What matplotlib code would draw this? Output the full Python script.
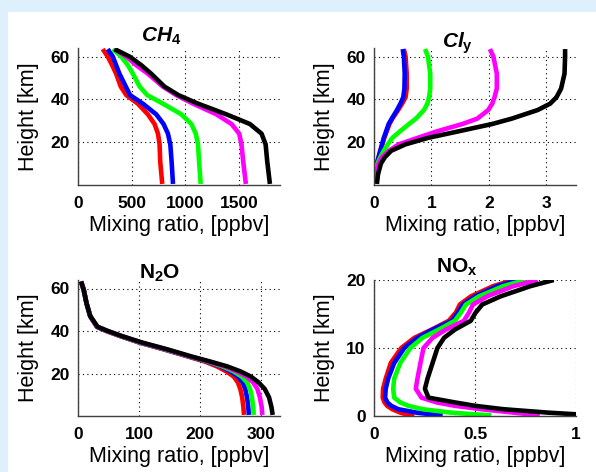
import numpy as np
import matplotlib
matplotlib.use('Agg')
import matplotlib.pyplot as plt
from matplotlib.patches import Rectangle

plt.rcParams['font.family'] = ['Liberation Sans', 'DejaVu Sans']
plt.rcParams['mathtext.fontset'] = 'custom'
plt.rcParams['mathtext.rm'] = 'Liberation Sans:weight=bold'
plt.rcParams['mathtext.it'] = 'Liberation Sans:style=italic:weight=bold'

# series order: red, blue, green, magenta, black
colors = ['#ff0000', '#0000ff', '#00ff00', '#ff00ff', '#000000']

# CH4 profiles [ppbv]
h_ch4 = [0.5, 11, 19, 24, 28.5, 33, 38, 42, 46, 52, 56, 60, 63.5]
ch4_red = [785, 766, 760, 745, 713, 651, 557, 450, 398, 355, 318, 277, 230]
ch4_blue = [885, 872, 860, 838, 797, 729, 604, 485, 445, 386, 355, 324, 277]
ch4_green = [1143, 1128, 1118, 1097, 1056, 963, 791, 645, 574, 511, 464, 402, 324]
ch4_magenta = [1564, 1539, 1523, 1502, 1430, 1290, 1072, 915, 790, 651, 542, 449, 340]
ch4_black = [1788, 1763, 1748, 1710, 1601, 1383, 1118, 935, 805, 682, 589, 480, 340]

# Cly profiles [ppbv]
h_cly = [0.5, 5, 10, 13, 16, 19, 22, 25, 28.5, 31, 35, 38, 41, 45, 52, 60, 63.5]
cly_red = [0.02, 0.03, 0.05, 0.08, 0.11, 0.145, 0.18, 0.22, 0.27, 0.32, 0.42, 0.49, 0.55, 0.57, 0.57, 0.55, 0.52]
cly_blue = [0.02, 0.03, 0.05, 0.08, 0.11, 0.14, 0.17, 0.21, 0.255, 0.31, 0.40, 0.46, 0.51, 0.53, 0.535, 0.52, 0.50]
cly_green = [0.02, 0.03, 0.06, 0.11, 0.17, 0.24, 0.32, 0.45, 0.61, 0.73, 0.87, 0.93, 0.96, 0.98, 0.98, 0.94, 0.89]
cly_magenta = [0.02, 0.03, 0.08, 0.14, 0.26, 0.43, 0.76, 1.09, 1.54, 1.80, 1.99, 2.06, 2.10, 2.14, 2.14, 2.08, 2.02]
cly_black = [0.05, 0.07, 0.12, 0.19, 0.30, 0.55, 0.94, 1.46, 2.06, 2.40, 2.85, 3.07, 3.18, 3.26, 3.32, 3.33, 3.33]

# N2O profiles [ppbv]
h_n2o = [0.5, 4.2, 8.8, 12.7, 15.8, 18.6, 21, 23.3, 25.6, 28, 31.4, 34.5, 37.6, 40, 42, 47, 53, 59.3, 63.3]
n2o_red = [272, 271, 269, 266, 262, 255, 243, 228, 208, 180, 140, 101, 69, 46, 31, 20, 14, 9.4, 5]
n2o_blue = [280, 279, 277, 274, 270, 262, 250, 234, 211, 182, 141, 102, 70, 47, 31, 20, 14, 9.4, 5]
n2o_green = [288, 287, 285, 282, 277, 268, 255, 237, 213, 183, 142, 103, 70, 47, 31, 20, 14, 9.4, 5]
n2o_magenta = [302, 301, 298, 294, 287, 276, 260, 241, 215, 184, 144, 104, 71, 48, 31, 20, 14, 9.4, 5]
n2o_black = [319, 317, 313, 306, 296, 283, 266, 245, 217, 186, 146, 106, 72, 49, 32, 20, 14, 9.4, 5]

# NOx profiles [ppbv]
h_nox = [0.1, 0.25, 0.5, 1.0, 1.5, 2.0, 2.7, 4, 5.5, 7.8, 10, 11.5, 12.7, 14, 15.2, 16.4, 17.6, 19.1, 20]
nox_red = [0.20, 0.16, 0.13, 0.09, 0.065, 0.052, 0.043, 0.045, 0.058, 0.083, 0.135, 0.20, 0.285, 0.37, 0.405, 0.425, 0.48, 0.59, 0.69]
nox_blue = [0.34, 0.28, 0.21, 0.12, 0.085, 0.066, 0.055, 0.058, 0.07, 0.10, 0.15, 0.215, 0.29, 0.385, 0.415, 0.44, 0.50, 0.61, 0.71]
nox_green = [0.58, 0.50, 0.38, 0.24, 0.17, 0.13, 0.10, 0.095, 0.10, 0.13, 0.18, 0.24, 0.32, 0.40, 0.43, 0.455, 0.52, 0.64, 0.75]
nox_magenta = [0.82, 0.77, 0.69, 0.53, 0.40, 0.31, 0.235, 0.207, 0.215, 0.23, 0.245, 0.29, 0.355, 0.445, 0.47, 0.49, 0.56, 0.69, 0.81]
nox_black = [1.15, 1.0, 0.86, 0.64, 0.50, 0.40, 0.27, 0.252, 0.265, 0.29, 0.314, 0.347, 0.40, 0.479, 0.503, 0.536, 0.627, 0.775, 0.89]

W, H = 596, 472
fig = plt.figure(figsize=(W / 100, H / 100), dpi=100, facecolor='#dff0fd')
fig.patches.append(Rectangle((8 / W, 0), 1, (H - 12) / H, transform=fig.transFigure,
                             facecolor='white', edgecolor='none', zorder=-10))


def px_axes(x0, x1, ytop, ybot):
    return fig.add_axes([x0 / W, (H - ybot) / H, (x1 - x0) / W, (ybot - ytop) / H])


panels = [
    (px_axes(78, 280, 48, 185), h_ch4, [ch4_red, ch4_blue, ch4_green, ch4_magenta, ch4_black],
     (0, 1882), (0, 64), [0, 500, 1000, 1500], ['0', '500', '1000', '1500'], [20, 40, 60]),
    (px_axes(374, 576, 48, 185), h_cly, [cly_red, cly_blue, cly_green, cly_magenta, cly_black],
     (0, 3.52), (0, 64), [0, 1, 2, 3], ['0', '1', '2', '3'], [20, 40, 60]),
    (px_axes(78, 280, 280, 416), h_n2o, [n2o_red, n2o_blue, n2o_green, n2o_magenta, n2o_black],
     (0, 331), (0, 64), [0, 100, 200, 300], ['0', '100', '200', '300'], [20, 40, 60]),
    (px_axes(374, 576, 280, 416), h_nox, [nox_red, nox_blue, nox_green, nox_magenta, nox_black],
     (0, 1), (0, 20), [0, 0.5, 1], ['0', '0.5', '1'], [0, 10, 20]),
]

for ax, h, series, xl, yl, xt, xtl, yt in panels:
    for vals, c in zip(series, colors):
        ax.plot(vals, h, color=c, lw=3.3, solid_joinstyle='round', solid_capstyle='butt')
    ax.set_xlim(xl)
    ax.set_ylim(yl)
    ax.set_xticks(xt)
    ax.set_xticklabels(xtl)
    ax.set_yticks(yt)
    ax.grid(True, color='black', linestyle=(0, (1, 3)), linewidth=0.8)
    for s in ['top', 'right']:
        ax.spines[s].set_visible(False)
    for s in ['left', 'bottom']:
        ax.spines[s].set_color('#404040')
        ax.spines[s].set_linewidth(1.0)
    ax.tick_params(axis='both', length=0, labelsize=12.5)
    ax.tick_params(axis='x', pad=8)
    ax.tick_params(axis='y', pad=6)
    for lab in ax.get_xticklabels() + ax.get_yticklabels():
        lab.set_fontweight('bold')
    ax.set_xlabel('Mixing ratio, [ppbv]', fontsize=15.5, labelpad=3)
    ax.set_ylabel('Height [km]', fontsize=15.5, labelpad=8)
    ax.set_facecolor('white')

fig.text(161 / W, (H - 41.5) / H, r'$CH_4$', fontsize=15, ha='center', va='baseline')
fig.text(457 / W, (H - 48) / H, r'$Cl_\mathrm{y}$', fontsize=15, ha='center', va='baseline')
fig.text(160 / W, (H - 279) / H, r'$\mathrm{N_2O}$', fontsize=15, ha='center', va='baseline')
fig.text(457 / W, (H - 273) / H, r'$\mathrm{NO_x}$', fontsize=15, ha='center', va='baseline')

fig.savefig('out.png', dpi=100, facecolor=fig.get_facecolor())
